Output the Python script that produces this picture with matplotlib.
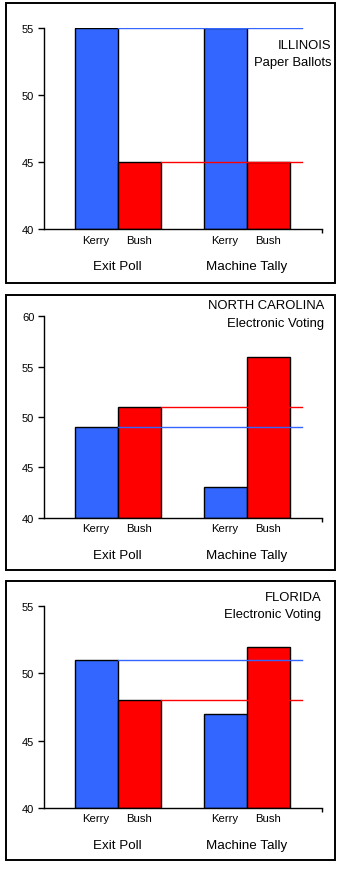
import matplotlib
matplotlib.use("Agg")
import matplotlib.pyplot as plt
from matplotlib.patches import Rectangle

plt.rcParams['font.family'] = ['Liberation Sans', 'DejaVu Sans']

candidates = ["Kerry", "Bush", "Kerry", "Bush"]
groups = ["Exit Poll", "Machine Tally"]
states = ["ILLINOIS", "NORTH CAROLINA", "FLORIDA"]
methods = ["Paper Ballots", "Electronic Voting", "Electronic Voting"]
exit_kerry = [55, 49, 51]
exit_bush = [45, 51, 48]
tally_kerry = [55, 43, 47]
tally_bush = [45, 56, 52]
y_max = [55, 60, 55]
y_step = 5
y_min = 40

BLUE = "#3366FF"
RED = "#FF0000"

W, H = 342, 870
fig = plt.figure(figsize=(W / 100, H / 100), dpi=100)

def fx(px):
    return px / W

def fy(py):
    return 1 - py / H

# panel geometry in pixels
frames = [(6, 4, 335, 284), (6, 296, 335, 571), (6, 582, 335, 861)]
axes_tb = [(29.3, 230), (317.3, 518.7), (607.3, 808.7)]
title_pos = [(331, 46, 63), (324, 306, 324), (321, 598, 615)]
ax_left, ax_right = 44, 322
x0_px, unit = 96, 43
xlim = ((ax_left - x0_px) / unit, (ax_right - x0_px) / unit)
line_end = (302 - x0_px) / unit
positions = [0, 1, 3, 4]

for i in range(3):
    fl, ft, fr, fb = frames[i]
    fig.patches.append(Rectangle((fx(fl), fy(fb)), fx(fr) - fx(fl), fy(ft) - fy(fb),
                                 transform=fig.transFigure, fill=False,
                                 edgecolor="black", linewidth=1.4))
    top, bot = axes_tb[i]
    ax = fig.add_axes([fx(ax_left), fy(bot), fx(ax_right) - fx(ax_left), fy(top) - fy(bot)])
    vals = [exit_kerry[i], exit_bush[i], tally_kerry[i], tally_bush[i]]
    colors = [BLUE, RED, BLUE, RED]
    ax.bar(positions, [v - y_min for v in vals], bottom=y_min, width=1.0,
           color=colors, edgecolor="black", linewidth=1.0, zorder=2)
    ax.plot([0.5, line_end], [exit_kerry[i]] * 2, color=BLUE, lw=1.0, zorder=3)
    ax.plot([1.5, line_end], [exit_bush[i]] * 2, color=RED, lw=1.0, zorder=3)
    ax.set_xlim(*xlim)
    ax.set_ylim(y_min, y_max[i])
    ax.set_yticks(range(y_min, y_max[i] + 1, y_step))
    ax.set_xticks(positions)
    ax.set_xticklabels(candidates, fontsize=8.2)
    ax.set_xticks([xlim[1]], minor=True)
    ax.tick_params(axis="x", which="major", length=0, pad=4)
    ax.tick_params(axis="x", which="minor", length=3, width=1, direction="out")
    ax.tick_params(axis="y", length=4, width=1, direction="out", labelsize=8, pad=3)
    for s in ["top", "right"]:
        ax.spines[s].set_visible(False)
    for s in ["left", "bottom"]:
        ax.spines[s].set_linewidth(1.0)
    ax.set_facecolor("none")
    for g, gx in zip(groups, [0.5, 3.5]):
        ax.annotate(g, xy=(gx, 0), xycoords=("data", "axes fraction"),
                    xytext=(0, -37 * 0.72), textcoords="offset points",
                    ha="center", va="center", fontsize=9.6)
    rx, y1, y2 = title_pos[i]
    fig.text(fx(rx), fy(y1), states[i], ha="right", va="center", fontsize=9.4)
    fig.text(fx(rx), fy(y2), methods[i], ha="right", va="center", fontsize=9.4)

fig.savefig("out.png", dpi=100, facecolor="white")
